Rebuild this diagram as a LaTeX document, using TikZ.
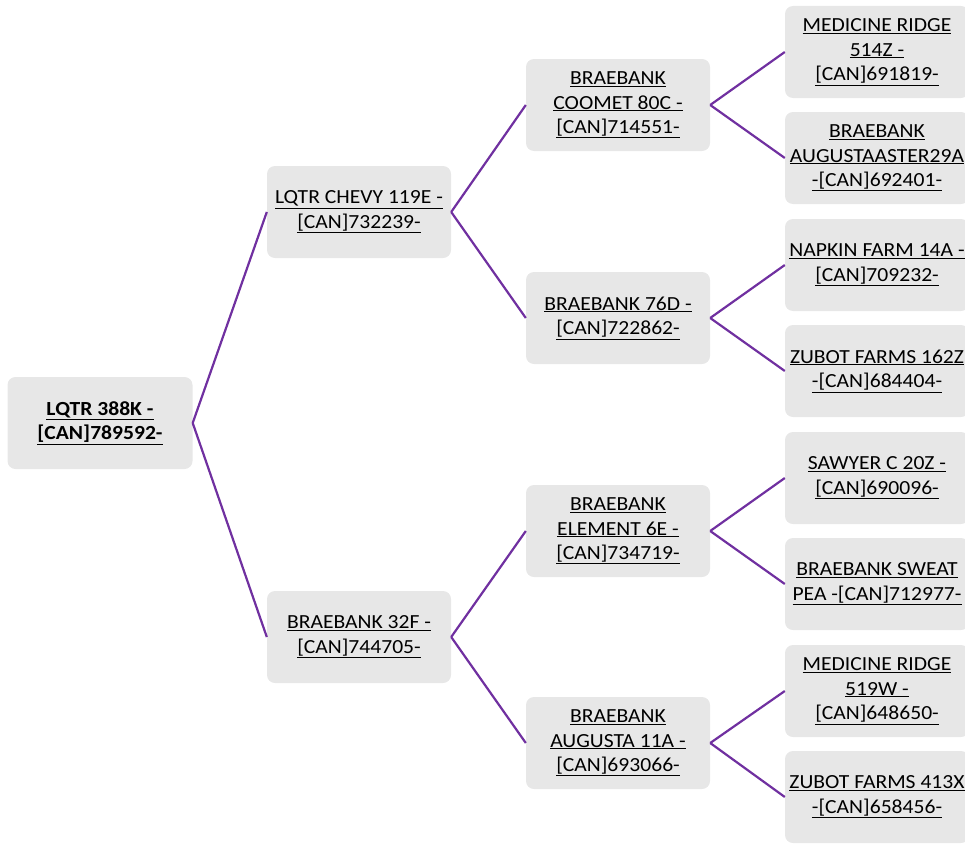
\documentclass[tikz,border=0pt]{standalone}
\usepackage{fontspec}
\setmainfont{Carlito}[FakeStretch=1.08]
\definecolor{linkc}{HTML}{7030A0}
\definecolor{boxc}{HTML}{E7E7E7}
\begin{document}
\begin{tikzpicture}[x=1pt,y=-1pt,
  pbox/.style={rectangle, rounded corners=8pt, fill=boxc, minimum width=184pt, minimum height=92pt, align=center, inner sep=2pt, font=\fontsize{20}{24.5}\selectfont},
  link/.style={draw=linkc, line width=2.2pt}]
\useasboundingbox (0,0) rectangle (965,843);
\begin{scope}
\clip (0,0) rectangle (965,843);
\node[pbox, minimum width=185pt, font=\fontsize{20}{24.5}\selectfont\bfseries] (r) at (100,423) {\underline{LQTR 388K -}\\\underline{[CAN]789592-}};
\node[pbox] (a) at (359,212) {\underline{LQTR CHEVY 119E -}\\\underline{[CAN]732239-}};
\node[pbox] (b) at (359,637) {\underline{BRAEBANK 32F -}\\\underline{[CAN]744705-}};
\node[pbox] (aa) at (618,105) {\underline{BRAEBANK}\\\underline{COOMET 80C -}\\\underline{[CAN]714551-}};
\node[pbox] (ab) at (618,318) {\underline{BRAEBANK 76D -}\\\underline{[CAN]722862-}};
\node[pbox] (ba) at (618,531) {\underline{BRAEBANK}\\\underline{ELEMENT 6E -}\\\underline{[CAN]734719-}};
\node[pbox] (bb) at (618,743) {\underline{BRAEBANK}\\\underline{AUGUSTA 11A -}\\\underline{[CAN]693066-}};
\node[pbox] (aaa) at (877,52) {\underline{MEDICINE RIDGE}\\\underline{514Z -}\\\underline{[CAN]691819-}};
\node[pbox] (aab) at (877,158) {\underline{BRAEBANK}\\\underline{AUGUSTAASTER29A}\\\underline{-[CAN]692401-}};
\node[pbox] (aba) at (877,265) {\underline{NAPKIN FARM 14A -}\\\underline{[CAN]709232-}};
\node[pbox] (abb) at (877,371) {\underline{ZUBOT FARMS 162Z}\\\underline{-[CAN]684404-}};
\node[pbox] (baa) at (877,478) {\underline{SAWYER C 20Z -}\\\underline{[CAN]690096-}};
\node[pbox] (bab) at (877,584) {\underline{BRAEBANK SWEAT}\\\underline{PEA -[CAN]712977-}};
\node[pbox] (bba) at (877,691) {\underline{MEDICINE RIDGE}\\\underline{519W -}\\\underline{[CAN]648650-}};
\node[pbox] (bbb) at (877,797) {\underline{ZUBOT FARMS 413X}\\\underline{-[CAN]658456-}};
\draw[link] (r.east) -- (a.west);
\draw[link] (r.east) -- (b.west);
\draw[link] (a.east) -- (aa.west);
\draw[link] (a.east) -- (ab.west);
\draw[link] (b.east) -- (ba.west);
\draw[link] (b.east) -- (bb.west);
\draw[link] (aa.east) -- (aaa.west);
\draw[link] (aa.east) -- (aab.west);
\draw[link] (ab.east) -- (aba.west);
\draw[link] (ab.east) -- (abb.west);
\draw[link] (ba.east) -- (baa.west);
\draw[link] (ba.east) -- (bab.west);
\draw[link] (bb.east) -- (bba.west);
\draw[link] (bb.east) -- (bbb.west);
\end{scope}
\end{tikzpicture}
\end{document}
